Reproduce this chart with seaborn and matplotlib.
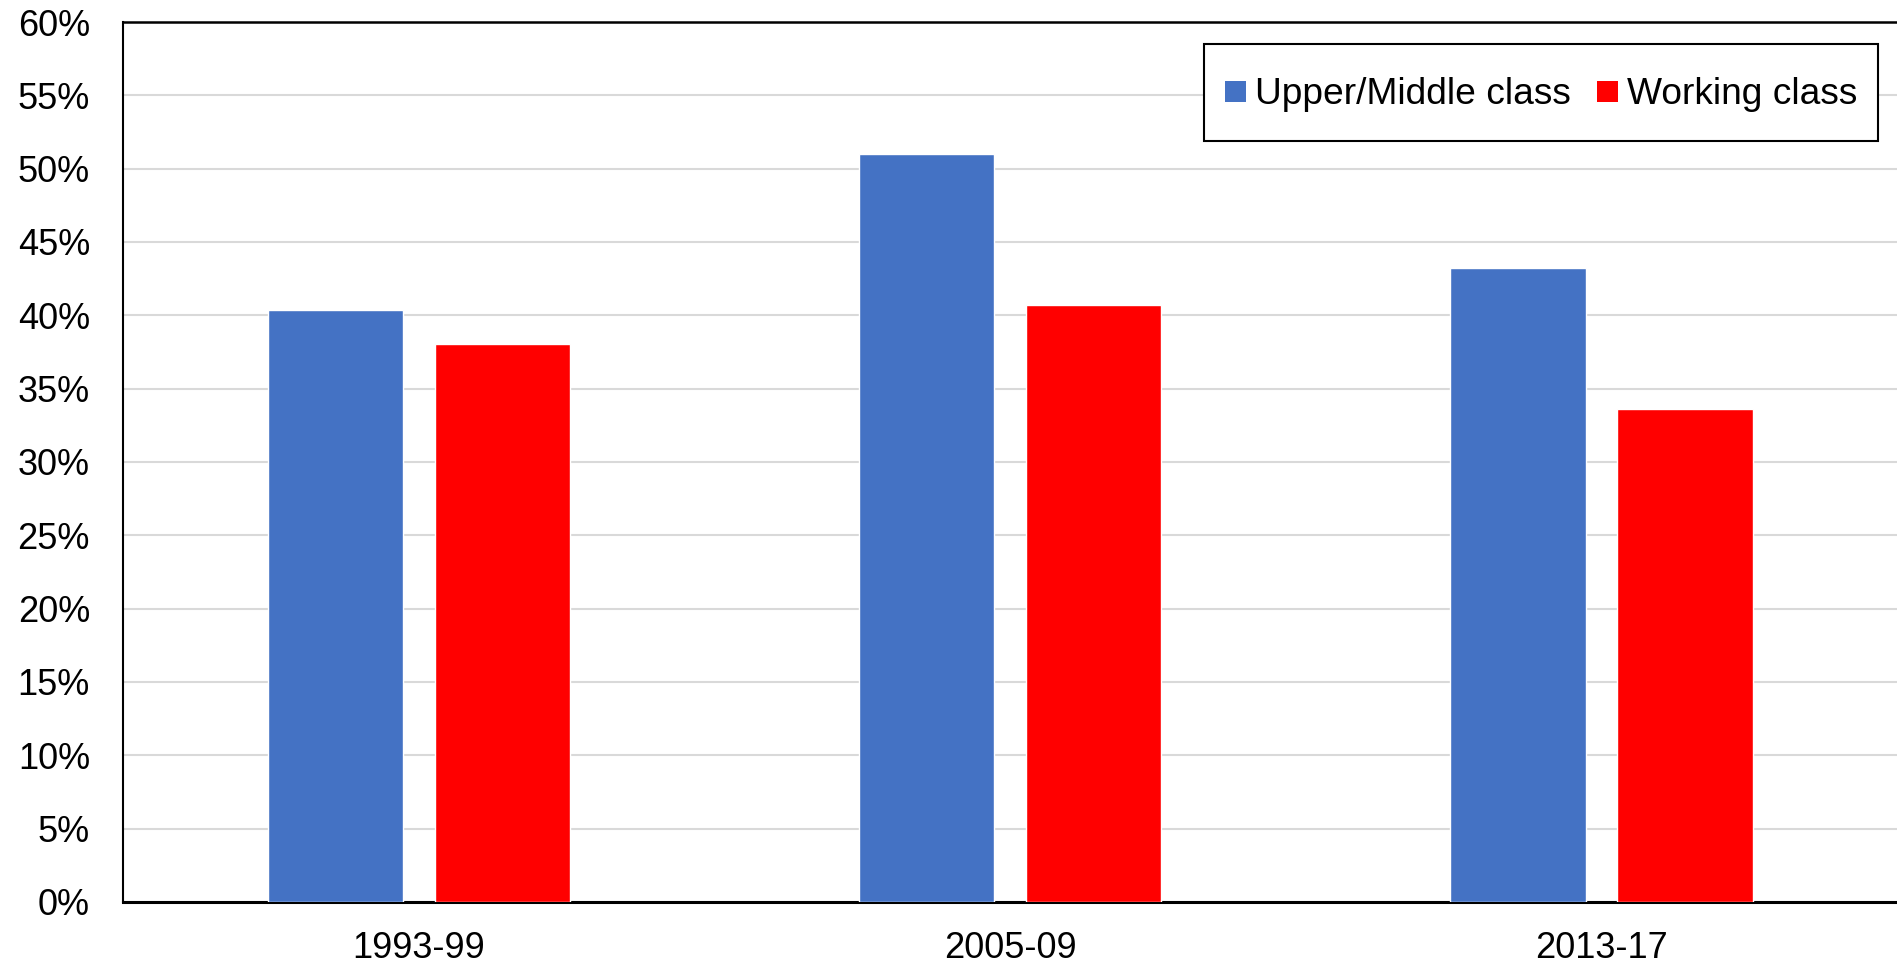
import matplotlib
matplotlib.use("Agg")
import matplotlib.pyplot as plt
import seaborn as sns
import pandas as pd
from matplotlib.patches import Patch, Rectangle
from matplotlib.legend_handler import HandlerPatch
from matplotlib.ticker import MultipleLocator, FuncFormatter

periods = ["1993-99", "2005-09", "2013-17"]
upper_middle = [40.35, 51.0, 43.2]
working = [38.05, 40.7, 33.6]
series_names = ["Upper/Middle class", "Working class"]
colors = ["#4472C4", "#FF0000"]

df = pd.DataFrame({
    "period": periods * 2,
    "value": upper_middle + working,
    "series": [series_names[0]] * 3 + [series_names[1]] * 3,
})

sns.set_style("white")
plt.rcParams["font.family"] = ["Liberation Sans", "DejaVu Sans"]
plt.rcParams["text.color"] = "black"

fig = plt.figure(figsize=(18.97, 9.65), dpi=100)
ax = fig.add_axes([0.065, 0.0653, 0.935, 0.9119])

sns.barplot(data=df, x="period", y="value", hue="series", order=periods,
            hue_order=series_names, palette=colors, width=0.565, gap=0.19,
            saturation=1, errorbar=None, ax=ax, legend=False, zorder=3)

ax.set_ylim(0, 60)
ax.set_xlim(-0.5, 2.5)
ax.yaxis.set_major_locator(MultipleLocator(5))
ax.yaxis.set_major_formatter(FuncFormatter(lambda v, p: f"{int(round(v))}%"))
ax.grid(axis="y", color="#d9d9d9", linewidth=1.5, zorder=0)
ax.set_axisbelow(True)
ax.set_xlabel("")
ax.set_ylabel("")
ax.tick_params(axis="both", length=0, labelsize=26, colors="black")
ax.tick_params(axis="y", pad=24)
ax.tick_params(axis="x", pad=21)

for s in ["left", "bottom", "top"]:
    ax.spines[s].set_visible(True)
    ax.spines[s].set_color("black")
ax.spines["left"].set_linewidth(1.5)
ax.spines["top"].set_linewidth(1.8)
ax.spines["bottom"].set_linewidth(2.2)
ax.spines["right"].set_visible(False)


class SquareHandler(HandlerPatch):
    def create_artists(self, legend, orig_handle, xdescent, ydescent,
                       width, height, fontsize, trans):
        s = width
        y0 = 0.35 * fontsize - s / 2
        p = Rectangle((-xdescent, y0), s, s,
                      facecolor=orig_handle.get_facecolor(),
                      edgecolor="none", transform=trans)
        return [p]


handles = [Patch(facecolor=c, edgecolor="none") for c in colors]
leg = fig.legend(handles, series_names, loc="center",
                 bbox_to_anchor=(1541 / 1897, 1 - 92.5 / 965),
                 bbox_transform=fig.transFigure, ncol=2, fontsize=26.7,
                 frameon=True, fancybox=False, framealpha=1,
                 edgecolor="black", borderpad=0.55, handlelength=0.57,
                 handleheight=1.95, handletextpad=0.24, columnspacing=0.7,
                 labelcolor="black",
                 handler_map={Patch: SquareHandler()})
leg.get_frame().set_linewidth(1.5)

fig.savefig("out.png", dpi=100, facecolor="white")
